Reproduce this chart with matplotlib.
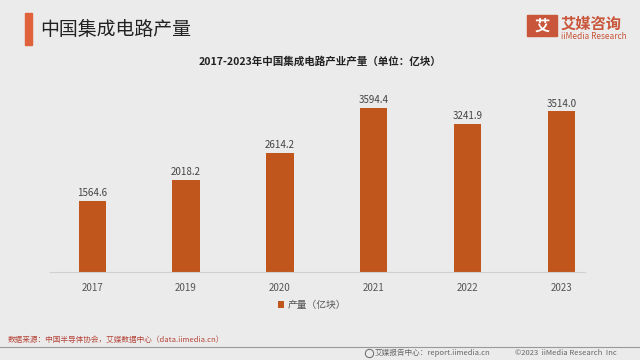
import matplotlib.pyplot as plt
from matplotlib.patches import Rectangle

plt.rcParams['font.family'] = ['Noto Sans CJK SC', 'DejaVu Sans']

years = ['2017', '2019', '2020', '2021', '2022', '2023']
output = [1564.6, 2018.2, 2614.2, 3594.4, 3241.9, 3514.0]

bg = '#ebebeb'
bar_color = '#c0561c'

fig = plt.figure(figsize=(6.4, 3.6), dpi=100, facecolor=bg)
ax = fig.add_axes([0.078, 0.244, 0.836, 0.534], facecolor=bg)

x = list(range(len(years)))
bars = ax.bar(x, output, width=0.29, color=bar_color, label='产量（亿块）')
for rect, v in zip(bars, output):
    ax.text(rect.get_x() + rect.get_width() / 2, v + 60, f'{v:.1f}',
            ha='center', va='bottom', fontsize=7, color='#444444')

ax.set_xlim(-0.45, 5.25)
ax.set_ylim(0, 4200)
ax.set_xticks(x)
ax.set_xticklabels(years, fontsize=7, color='#555555')
ax.tick_params(axis='x', length=0, pad=8)
ax.set_yticks([])
for s in ['top', 'right', 'left']:
    ax.spines[s].set_visible(False)
ax.spines['bottom'].set_color('#d0d0d0')

ax.legend(loc='center', bbox_to_anchor=(0.49, -0.17), frameon=False,
          fontsize=7, handlelength=0.6, handleheight=0.6, handletextpad=0.3,
          labelcolor='#555555')

# header
fig.patches.append(Rectangle((0.039, 0.875), 0.011, 0.089, transform=fig.transFigure,
                             color='#e0623a', zorder=3))
fig.text(0.062, 0.918, '中国集成电路产量', fontsize=13.6, color='#222222', va='center')
fig.text(0.5, 0.83, '2017-2023年中国集成电路产业产量（单位：亿块）', fontsize=7.6,
         fontweight='bold', ha='center', va='center', color='#222222')

# logo
fig.patches.append(Rectangle((0.823, 0.9), 0.047, 0.058, transform=fig.transFigure,
                             color='#c9553a', zorder=3))
fig.text(0.8465, 0.929, '艾', fontsize=11, color='white', ha='center', va='center',
         fontweight='bold', zorder=4)
fig.text(0.876, 0.935, '艾媒咨询', fontsize=11, color='#c9553a', va='center',
         fontweight='bold')
fig.text(0.877, 0.899, 'iiMedia Research', fontsize=6, color='#c9553a', va='center')

# footer
fig.text(0.012, 0.056, '数据来源：中国半导体协会，艾媒数据中心（data.iimedia.cn）',
         fontsize=5.5, color='#b5453a', va='center')
fig.add_artist(plt.Line2D([0, 1], [0.036, 0.036], transform=fig.transFigure,
                          color='#999999', lw=0.8))
fig.add_artist(plt.Line2D([0.577], [0.019], transform=fig.transFigure, marker='o',
                          markersize=6, markerfacecolor='none',
                          markeredgecolor='#666666', markeredgewidth=0.7))
fig.text(0.585, 0.019, '艾媒报告中心：report.iimedia.cn', fontsize=5.5,
         color='#666666', va='center')
fig.text(0.805, 0.019, '©2023  iiMedia Research  Inc', fontsize=5.5,
         color='#666666', va='center')

plt.savefig('out.png', dpi=100, facecolor=bg)
